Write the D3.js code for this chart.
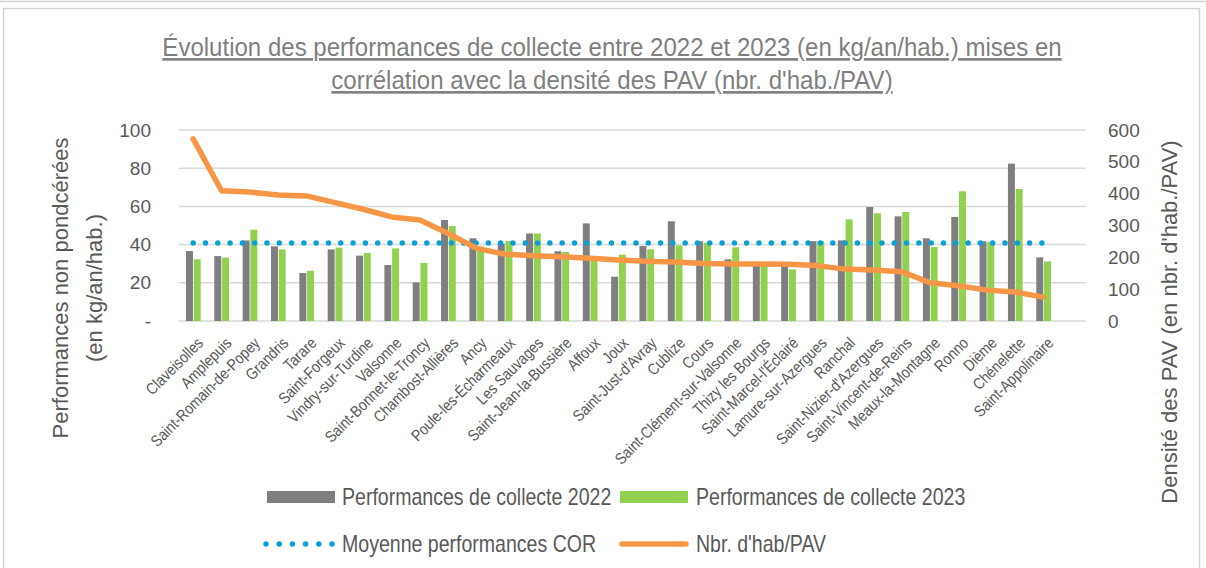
<!DOCTYPE html>
<html>
<head>
<meta charset="utf-8">
<script src="https://cdn.jsdelivr.net/npm/d3@7"></script>
<style>
  html, body { margin: 0; padding: 0; background: #fff; }
  svg { display: block; }
  .sans { font-family: "Liberation Sans", Arial, sans-serif; }
</style>
</head>
<body>
<div id="chart"></div>
<script>
// données
const communes = ["Claveisolles", "Amplepuis", "Saint-Romain-de-Popey", "Grandris", "Tarare",
  "Saint-Forgeux", "Vindry-sur-Turdine", "Valsonne", "Saint-Bonnet-le-Troncy", "Chambost-Allières",
  "Ancy", "Poule-les-Écharmeaux", "Les Sauvages", "Saint-Jean-la-Bussière", "Affoux", "Joux",
  "Saint-Just-d'Avray", "Cublize", "Cours", "Saint-Clément-sur-Valsonne", "Thizy les Bourgs",
  "Saint-Marcel-l'Éclairé", "Lamure-sur-Azergues", "Ranchal", "Saint-Nizier-d'Azergues",
  "Saint-Vincent-de-Reins", "Meaux-la-Montagne", "Ronno", "Dième", "Chénelette", "Saint-Appolinaire"];
const perf2022 = [36.6, 34.0, 42.2, 39.1, 25.1, 37.5, 34.2, 29.3, 20.2, 52.9, 43.3, 40.5, 45.8, 36.5, 51.1, 23.2,
  39.3, 52.2, 41.7, 32.3, 29.5, 29.5, 41.8, 42.2, 59.7, 54.8, 43.3, 54.5, 41.7, 82.4, 33.3];
const perf2023 = [32.3, 33.2, 47.8, 37.5, 26.3, 38.4, 35.6, 38.0, 30.4, 49.7, 39.0, 41.8, 45.8, 36.1, 32.0, 34.7,
  37.5, 39.6, 41.0, 38.6, 29.0, 27.0, 41.8, 53.2, 56.4, 57.1, 38.7, 67.9, 41.5, 69.1, 31.2];
const habParPAV = [572, 409, 405, 396, 393, 372, 351, 327, 317, 275, 228, 210, 205, 202, 197, 192, 188, 185,
  181, 179, 179, 178, 174, 163, 160, 155, 120, 111, 97, 91, 75];
const moyenneCOR = 40.8;
const ticksGauche = [0, 20, 40, 60, 80, 100];
const ticksDroite = [0, 100, 200, 300, 400, 500, 600];

const W = 1206, H = 568;
const gris = "#7f7f7f", vert = "#92d050", orange = "#f79646", bleu = "#0aa0d6", texte = "#595959";

const svg = d3.select("#chart").append("svg").attr("width", W).attr("height", H)
  .attr("class", "sans");

// cadre
svg.append("line").attr("x1", 0).attr("x2", W).attr("y1", 1.5).attr("y2", 1.5)
  .attr("stroke", "#d4d4d4").attr("stroke-width", 1.5);
svg.append("rect").attr("x", 3.5).attr("y", 8.5).attr("width", 1196).attr("height", 620)
  .attr("fill", "none").attr("stroke", "#d4d4d4").attr("stroke-width", 1.5);

// échelles (une case vide à la fin, comme dans le classeur)
const x = d3.scaleBand().domain(communes.concat([""])).range([179, 1086]);
const bw = x.bandwidth();
const xs = d3.scaleBand().domain(["2022", "2023"]).range([bw / 2 - 7.2, bw / 2 + 7.5]).paddingInner(0.1);
const y = d3.scaleLinear().domain([0, 100]).range([321, 130]);
const y2 = d3.scaleLinear().domain([0, 600]).range([321, 130]);
const cx = d => x(d) + bw / 2;

// grille
svg.append("g").selectAll("line").data(ticksGauche).join("line")
  .attr("x1", 179).attr("x2", 1086)
  .attr("y1", d => y(d)).attr("y2", d => y(d))
  .attr("stroke", "#d9d9d9").attr("stroke-width", 1.5);

// axes gauche et droit
const axeG = svg.append("g").attr("transform", "translate(151,0)")
  .call(d3.axisLeft(y).tickValues(ticksGauche).tickSize(0).tickPadding(0)
    .tickFormat(d => d === 0 ? "-" : d));
const axeD = svg.append("g").attr("transform", "translate(1108,0)")
  .call(d3.axisRight(y2).tickValues(ticksDroite).tickSize(0).tickPadding(0));
[axeG, axeD].forEach(a => {
  a.attr("font-family", null);
  a.select(".domain").remove();
  a.selectAll("text").attr("font-size", 19).attr("fill", texte);
});

// barres
const groupes = svg.append("g").selectAll("g").data(communes).join("g")
  .attr("transform", d => `translate(${x(d)},0)`);
groupes.append("rect")
  .attr("x", xs("2022")).attr("width", xs.bandwidth())
  .attr("y", (d, i) => y(perf2022[i])).attr("height", (d, i) => y(0) - y(perf2022[i]))
  .attr("fill", gris);
groupes.append("rect")
  .attr("x", xs("2023")).attr("width", xs.bandwidth())
  .attr("y", (d, i) => y(perf2023[i])).attr("height", (d, i) => y(0) - y(perf2023[i]))
  .attr("fill", vert);

// moyenne COR (pointillés)
svg.append("line")
  .attr("x1", cx(communes[0])).attr("x2", cx(communes[communes.length - 1]))
  .attr("y1", y(moyenneCOR)).attr("y2", y(moyenneCOR))
  .attr("stroke", bleu).attr("stroke-width", 5.5)
  .attr("stroke-linecap", "round").attr("stroke-dasharray", "0,12.3");

// nbr d'hab/PAV
const ligne = d3.line().x((d, i) => cx(communes[i])).y(d => y2(d));
svg.append("path").datum(habParPAV).attr("d", ligne)
  .attr("fill", "none").attr("stroke", orange).attr("stroke-width", 5.5)
  .attr("stroke-linejoin", "round").attr("stroke-linecap", "round");

// étiquettes des communes (police étroite simulée)
svg.append("g").selectAll("text").data(communes).join("text")
  .attr("transform", d => `translate(${cx(d) + 3},336) rotate(-45) scale(0.86,1)`)
  .attr("text-anchor", "end").attr("dy", "0.71em")
  .attr("font-size", 16).attr("fill", texte)
  .text(d => d);

// titre
const titre = ["Évolution des performances de collecte entre 2022 et 2023 (en kg/an/hab.) mises en",
  "corrélation avec la densité des PAV (nbr. d'hab./PAV)"];
svg.append("g").attr("transform", "translate(612,0) scale(0.925,1)")
  .selectAll("text").data(titre).join("text")
  .attr("x", 0).attr("y", (d, i) => 56 + i * 33)
  .attr("text-anchor", "middle").attr("font-size", 26).attr("fill", "#7f7f7f")
  .attr("text-decoration", "underline")
  .text(d => d);

// titres des axes
svg.append("text")
  .attr("transform", "translate(68,288) rotate(-90)")
  .attr("text-anchor", "middle").attr("font-size", 22).attr("fill", texte)
  .selectAll("tspan").data(["Performances non pondcérées", "(en kg/an/hab.)"]).join("tspan")
  .attr("x", 0).attr("dy", (d, i) => i === 0 ? 0 : 34).text(d => d);
svg.append("text")
  .attr("transform", "translate(1177,322) rotate(-90)")
  .attr("text-anchor", "middle").attr("font-size", 22).attr("fill", texte)
  .text("Densité des PAV (en nbr. d'hab./PAV)");

// légende
const leg = svg.append("g");
leg.append("rect").attr("x", 267).attr("y", 491).attr("width", 68).attr("height", 12).attr("fill", gris);
leg.append("rect").attr("x", 620).attr("y", 491).attr("width", 68).attr("height", 12).attr("fill", vert);
leg.append("line").attr("x1", 266).attr("x2", 333).attr("y1", 544).attr("y2", 544)
  .attr("stroke", bleu).attr("stroke-width", 5.5).attr("stroke-linecap", "round").attr("stroke-dasharray", "0,13.2");
leg.append("line").attr("x1", 622).attr("x2", 686).attr("y1", 544).attr("y2", 544)
  .attr("stroke", orange).attr("stroke-width", 5.5).attr("stroke-linecap", "round");
const legTextes = [
  { t: "Performances de collecte 2022", x: 342, y: 497 },
  { t: "Performances de collecte 2023", x: 696, y: 497 },
  { t: "Moyenne performances COR", x: 342, y: 544 },
  { t: "Nbr. d'hab/PAV", x: 696, y: 544 }
];
leg.selectAll("text").data(legTextes).join("text")
  .attr("transform", d => `translate(${d.x},${d.y}) scale(0.85,1)`)
  .attr("dy", "0.36em")
  .attr("font-size", 23).attr("fill", texte).text(d => d.t);
</script>
</body>
</html>
